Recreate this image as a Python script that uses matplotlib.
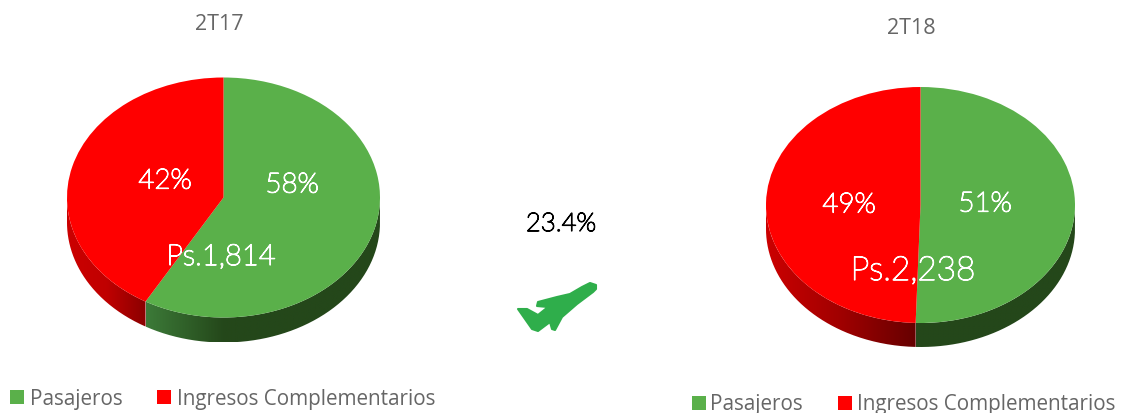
import numpy as np
import matplotlib
matplotlib.use("Agg")
import matplotlib.pyplot as plt
import matplotlib.patheffects as pe
from matplotlib.colors import LinearSegmentedColormap
from matplotlib.patches import PathPatch, Polygon, Rectangle
from matplotlib.path import Path

W, H = 1123, 414

categories = ["Pasajeros", "Ingresos Complementarios"]
# slice sizes, labels are the printed rounded figures
share_2t17 = [58.3, 41.7]
share_2t18 = [50.5, 49.5]
labels_2t17 = ["58%", "42%"]
labels_2t18 = ["51%", "49%"]
periods = ["2T17", "2T18"]
totals = ["Ps.1,814", "Ps.2,238"]
growth = "23.4%"

GREEN = "#5ab04a"
RED = "#ff0000"
GREY = "#666666"
LABEL_FONT = {"family": ["Lato", "DejaVu Sans"], "weight": "light"}
TEXT_FONT = ["Open Sans", "DejaVu Sans"]


def side_band(ax, start, end, depth, colors):
    # rim below the pie face, only the part facing the viewer
    t = np.radians(np.linspace(start, end, 200))
    x, y = np.cos(t), np.sin(t)
    verts = np.r_[np.c_[x, y], np.c_[x, y - depth][::-1]]
    patch = PathPatch(Path(np.r_[verts, verts[:1]]), fc="none", ec="none")
    ax.add_patch(patch)
    cmap = LinearSegmentedColormap.from_list("rim", colors)
    grad = np.linspace(0, 1, 256)[None, :]
    img = ax.imshow(grad, cmap=cmap, aspect="auto", zorder=1,
                    extent=(x.min(), x.max(), -1 - depth, 0))
    img.set_clip_path(patch)


def draw_pie(cx, cy, rx, ry, rim, shares, red_rim, green_rim):
    pie_ax = fig.add_axes([(cx - rx) / W, 1 - (cy + ry + rim) / H,
                           2 * rx / W, (2 * ry + rim) / H])
    depth = rim / ry
    wedges, _ = pie_ax.pie(shares, colors=[GREEN, RED], startangle=90,
                           counterclock=False, radius=1)
    for w in wedges:
        w.set_zorder(3)
        w.set_clip_on(False)
    # green runs clockwise from 12 o'clock, red closes the circle
    split = 90 - shares[0] * 3.6 + 360
    side_band(pie_ax, 180, split, depth, red_rim)
    side_band(pie_ax, split, 360, depth, green_rim)
    pie_ax.set_aspect("auto")
    pie_ax.set_xlim(-1, 1)
    pie_ax.set_ylim(-1 - depth, 1)
    pie_ax.axis("off")


def legend(ax, x_green, x_green_text, x_red, x_red_text, y, y_text):
    for x, color in [(x_green, GREEN), (x_red, RED)]:
        ax.add_patch(Rectangle((x, y - 7), 14, 14, fc=color, ec="none"))
    ax.text(x_green_text, y_text, categories[0], family=TEXT_FONT, fontsize=14.9,
            color=GREY, va="center", ha="left")
    ax.text(x_red_text, y_text, categories[1], family=TEXT_FONT, fontsize=14.9,
            color=GREY, va="center", ha="left")


def label(ax, x, y, s, size, color="white"):
    # the light cut is a hairline here, a thin stroke brings it up to weight
    t = ax.text(x, y, s, fontsize=size, color=color, ha="center", va="center", **LABEL_FONT)
    t.set_path_effects([pe.withStroke(linewidth=0.9, foreground=color)])


fig = plt.figure(figsize=(W / 100, H / 100), dpi=100, facecolor="white")

draw_pie(223.5, 198.5, 156.5, 120, 25, share_2t17,
         ["#cc0000", "#c00000", "#8a0000"], ["#3c7a38", "#24471a", "#24471a", "#24471a"])
draw_pie(920.5, 206, 154.5, 118, 24, share_2t18,
         ["#cc0000", "#a00000", "#660000"], ["#24471a", "#24471a"])

ax = fig.add_axes([0, 0, 1, 1], zorder=5)
ax.set_xlim(0, W)
ax.set_ylim(H, 0)
ax.axis("off")

ax.text(219, 24, periods[0], family=TEXT_FONT, fontsize=15.5, color=GREY, ha="center", va="center")
ax.text(911, 29, periods[1], family=TEXT_FONT, fontsize=15.5, color=GREY, ha="center", va="center")

label(ax, 165, 182, labels_2t17[1], 20)
label(ax, 292, 186, labels_2t17[0], 20)
label(ax, 849, 206, labels_2t18[1], 20)
label(ax, 985, 205, labels_2t18[0], 20)
label(ax, 221, 258, totals[0], 21)
label(ax, 913, 272, totals[1], 24)
label(ax, 561, 225, growth, 18.5, color="black")

# plane icon, traced by hand
plane = [(596, 286), (590, 284), (582, 288), (570, 295), (557, 298), (538, 303),
         (537, 307), (548, 308), (538, 316), (527, 310), (518, 310), (525, 320),
         (532, 330), (538, 332), (550, 323), (552, 330), (555, 331), (562, 318),
         (577, 305), (593, 293), (596, 290)]
ax.add_patch(Polygon(plane, closed=True, fc="#2fae4b", ec="#2fae4b", lw=1.5, joinstyle="round"))

legend(ax, 10, 30, 157, 177, 398, 400)
legend(ax, 692, 710, 838, 857, 404, 404.5)

fig.savefig("out.png", dpi=100)
